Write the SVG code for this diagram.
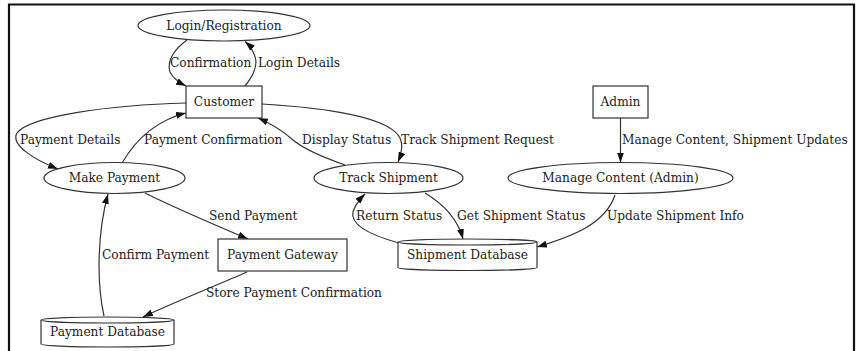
<svg xmlns="http://www.w3.org/2000/svg" width="856" height="351" viewBox="0 0 856 351">
<style>
text{font-family:"DejaVu Serif","Liberation Serif",serif;font-size:12.2px;fill:#222}
.n{text-anchor:middle}
.shape{fill:#fff;stroke:#333;stroke-width:1.2}
.e{fill:none;stroke:#333;stroke-width:1.2;marker-end:url(#arr)}
</style>
<defs>
<marker id="arr" viewBox="0 0 10 7" refX="10" refY="3.5" markerWidth="10" markerHeight="7" markerUnits="userSpaceOnUse" orient="auto">
<path d="M0,0 L10,3.5 L0,7 z" fill="#111"/>
</marker>
</defs>
<rect x="0" y="0" width="856" height="351" fill="#fff"/>
<path d="M9,360 L9,4.5 L854,4.5 L854,360" fill="none" stroke="#111" stroke-width="2.2"/>

<g id="edges">
<path class="e" d="M245,86 C254,75 259,64 254,54 C252,49 249,45 245,41.5"/>
<path class="e" d="M187,40 C176,48 166,60 170,72 C173,78 180,83 186,86"/>
<path class="e" d="M186,103 C110,105 30,116 17,133 C10,145 35,160 58,169"/>
<path class="e" d="M122,163 C132,146 150,122 186,113"/>
<path class="e" d="M262,104 C330,108 390,118 400,138 C404,146 401,155 398,162"/>
<path class="e" d="M345,165 C325,158 305,150 293,140 C283,131 272,124 258,118"/>
<path class="e" d="M620.5,118 L620.5,162.5"/>
<path class="e" d="M145,193 C175,208 215,225 248,239"/>
<path class="e" d="M104,316 C96,280 98,230 108,194"/>
<path class="e" d="M247,272 C215,286 175,302 143,317"/>
<path class="e" d="M399,243 C370,235 350,225 353,212 C355,205 360,199 365,194"/>
<path class="e" d="M425,193 C445,205 458,220 463,239"/>
<path class="e" d="M615,195 C605,225 570,237 537,247"/>
<text x="170" y="67">Confirmation</text>
<text x="258" y="67">Login Details</text>
<text x="20" y="143.5">Payment Details</text>
<text x="144" y="143.5">Payment Confirmation</text>
<text x="302" y="143.5">Display Status</text>
<text x="401" y="143.5">Track Shipment Request</text>
<text x="622" y="143.5">Manage Content, Shipment Updates</text>
<text x="209" y="220">Send Payment</text>
<text x="356" y="220">Return Status</text>
<text x="457" y="220">Get Shipment Status</text>
<text x="607" y="220">Update Shipment Info</text>
<text x="102" y="258.5">Confirm Payment</text>
<text x="206" y="297">Store Payment Confirmation</text>
</g>

<g id="login">
<ellipse class="shape" cx="224" cy="25.5" rx="86" ry="15.5"/>
<text class="n" x="224" y="29.5">Login/Registration</text>
</g>
<g id="customer">
<rect class="shape" x="186" y="86" width="76" height="32"/>
<text class="n" x="224" y="106">Customer</text>
</g>
<g id="admin">
<rect class="shape" x="593" y="86" width="55" height="32"/>
<text class="n" x="620.5" y="106">Admin</text>
</g>
<g id="make-payment">
<ellipse class="shape" cx="114.5" cy="178" rx="70.5" ry="15.5"/>
<text class="n" x="114.5" y="182">Make Payment</text>
</g>
<g id="track-shipment">
<ellipse class="shape" cx="388.5" cy="178" rx="74.5" ry="15.5"/>
<text class="n" x="388.5" y="182">Track Shipment</text>
</g>
<g id="manage-content">
<ellipse class="shape" cx="620.5" cy="178" rx="112.5" ry="15.5"/>
<text class="n" x="620.5" y="182">Manage Content (Admin)</text>
</g>
<g id="payment-gateway">
<rect class="shape" x="218" y="239" width="129" height="32"/>
<text class="n" x="282.5" y="259">Payment Gateway</text>
</g>
<g id="shipment-db">
<path class="shape" d="M398,242 A69.5,3 0 0,1 537,242 L537,267.5 A69.5,3 0 0,1 398,267.5 Z"/>
<path class="shape" fill="none" d="M398,242 A69.5,3 0 0,0 537,242"/>
<text class="n" x="467.5" y="259">Shipment Database</text>
</g>
<g id="payment-db">
<path class="shape" d="M41,320 A66.5,3 0 0,1 174,320 L174,344 A66.5,3 0 0,1 41,344 Z"/>
<path class="shape" fill="none" d="M41,320 A66.5,3 0 0,0 174,320"/>
<text class="n" x="107.5" y="336">Payment Database</text>
</g>
</svg>
